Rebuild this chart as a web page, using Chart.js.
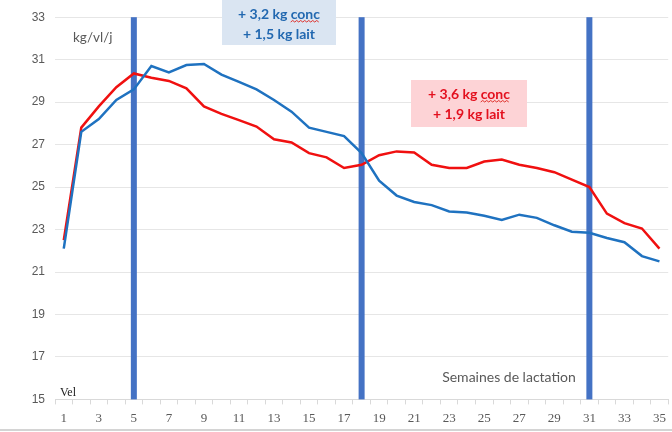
<!DOCTYPE html>
<html>
<head>
<meta charset="utf-8">
<script src="https://cdn.jsdelivr.net/npm/chart.js@4/dist/chart.umd.min.js"></script>
<style>
  html, body { margin: 0; padding: 0; background: #ffffff; }
  #wrap { width: 672px; height: 432px; position: relative; }
</style>
</head>
<body>
<div id="wrap"><canvas id="c" width="672" height="432"></canvas></div>
<script>
// Semaines de lactation
const weeks = Array.from({ length: 35 }, (_, i) => String(i + 1));

// Production laitière (kg/vl/j) par semaine
const seriesBlue = [22.1, 27.6, 28.2, 29.1, 29.6, 30.7, 30.4, 30.75, 30.8, 30.3,
                    29.95, 29.6, 29.1, 28.55, 27.8, 27.6, 27.4, 26.6, 25.3, 24.6,
                    24.3, 24.15, 23.85, 23.8, 23.65, 23.45, 23.7, 23.55, 23.2, 22.9,
                    22.85, 22.6, 22.4, 21.75, 21.5];
const seriesRed  = [22.5, 27.8, 28.8, 29.7, 30.35, 30.15, 30.0, 29.65, 28.8, 28.45,
                    28.15, 27.85, 27.25, 27.1, 26.6, 26.4, 25.9, 26.05, 26.5, 26.68,
                    26.63, 26.05, 25.9, 25.9, 26.2, 26.3, 26.05, 25.9, 25.7, 25.35,
                    25.0, 23.75, 23.3, 23.05, 22.1];

// Semaines de changement de ration
const markerWeeks = ['5', '18', '31'];

// Axe des ordonnées
const yMin = 15, yMax = 33, yStep = 2;

// Encadrés de texte
const noteBlue = ['+ 3,2 kg conc', '+ 1,5 kg lait'];
const noteRed  = ['+ 3,6 kg conc', '+ 1,9 kg lait'];

function wavy(ctx, x0, x1, y, color) {
  ctx.save();
  ctx.strokeStyle = color;
  ctx.lineWidth = 1;
  ctx.beginPath();
  let up = true;
  ctx.moveTo(x0, y);
  for (let x = x0 + 2; x <= x1; x += 2) {
    ctx.lineTo(x, up ? y - 1.5 : y);
    up = !up;
  }
  ctx.stroke();
  ctx.restore();
}

function drawNote(ctx, box, lines, bg, fg) {
  ctx.save();
  ctx.fillStyle = bg;
  ctx.fillRect(box.x, box.y, box.w, box.h);
  ctx.fillStyle = fg;
  ctx.font = 'bold 14px Lato, "Open Sans", sans-serif';
  ctx.textAlign = 'center';
  ctx.textBaseline = 'middle';
  const cx = box.x + box.w / 2;
  ctx.fillText(lines[0], cx, box.y + box.l1);
  ctx.fillText(lines[1], cx, box.y + box.l2);
  // soulignement ondulé sous « conc »
  const full = ctx.measureText(lines[0]).width;
  const word = ctx.measureText('conc').width;
  const right = cx + full / 2;
  wavy(ctx, right - word, right, box.y + box.l1 + 8, '#e0302a');
  ctx.restore();
}

const decorations = {
  id: 'decorations',
  beforeDatasetsDraw(chart) {
    const { ctx, scales: { x, y } } = chart;
    ctx.save();
    ctx.fillStyle = '#4472c4';
    const top = y.getPixelForValue(yMax);
    const bottom = y.getPixelForValue(yMin);
    markerWeeks.forEach(w => {
      const px = x.getPixelForValue(weeks.indexOf(w));
      ctx.fillRect(px - 3, top, 6, bottom - top);
    });
    ctx.restore();
  },
  afterDraw(chart) {
    const { ctx } = chart;
    ctx.save();
    // unité
    ctx.fillStyle = '#595959';
    ctx.font = '13.5px Lato, "Open Sans", sans-serif';
    ctx.textAlign = 'left';
    ctx.textBaseline = 'middle';
    ctx.fillText('kg/vl/j', 73, 38);
    // titre de l'axe des abscisses
    ctx.font = '14px Lato, "Open Sans", sans-serif';
    ctx.textAlign = 'center';
    ctx.fillText('Semaines de lactation', 509, 377);
    // libellé en bas à gauche
    ctx.fillStyle = '#222222';
    ctx.font = '12px "Liberation Serif", serif';
    ctx.textAlign = 'left';
    ctx.fillText('Vel', 60, 393);
    // encadrés
    drawNote(ctx, { x: 222, y: 0, w: 114, h: 45, l1: 14, l2: 34 }, noteBlue, '#dae5f2', '#2268b0');
    drawNote(ctx, { x: 411, y: 80, w: 116, h: 47, l1: 14, l2: 34 }, noteRed, '#fdd3d6', '#e3101e');
    // filet inférieur
    ctx.fillStyle = '#d4d4d4';
    ctx.fillRect(0, 429, 672, 2);
    ctx.restore();
  }
};

new Chart(document.getElementById('c'), {
  type: 'line',
  data: {
    labels: weeks,
    datasets: [
      { data: seriesBlue, borderColor: '#1f72c0', borderWidth: 2.5, pointRadius: 0, tension: 0, fill: false },
      { data: seriesRed,  borderColor: '#f01010', borderWidth: 2.5, pointRadius: 0, tension: 0, fill: false }
    ]
  },
  options: {
    responsive: false,
    animation: false,
    layout: { padding: { top: 13, right: 3, bottom: 0, left: 0 } },
    plugins: { legend: { display: false }, tooltip: { enabled: false } },
    scales: {
      x: {
        offset: true,
        grid: { offset: true, drawOnChartArea: false, drawTicks: true, tickLength: 5, color: '#d9d9d9' },
        border: { display: true, color: '#d9d9d9', width: 1 },
        ticks: {
          autoSkip: false,
          maxRotation: 0,
          padding: 6,
          color: '#595959',
          font: { family: '"Liberation Serif", serif', size: 13 },
          callback: (v, i) => (i % 2 === 0 ? weeks[i] : '')
        }
      },
      y: {
        min: yMin,
        max: yMax,
        afterFit: s => { s.width = 55; },
        grid: { color: '#e6e6e6', drawTicks: false },
        border: { display: false },
        ticks: {
          stepSize: yStep,
          padding: 10,
          color: '#595959',
          font: { family: '"Liberation Sans", sans-serif', size: 12 }
        }
      }
    }
  },
  plugins: [decorations]
});
</script>
</body>
</html>
